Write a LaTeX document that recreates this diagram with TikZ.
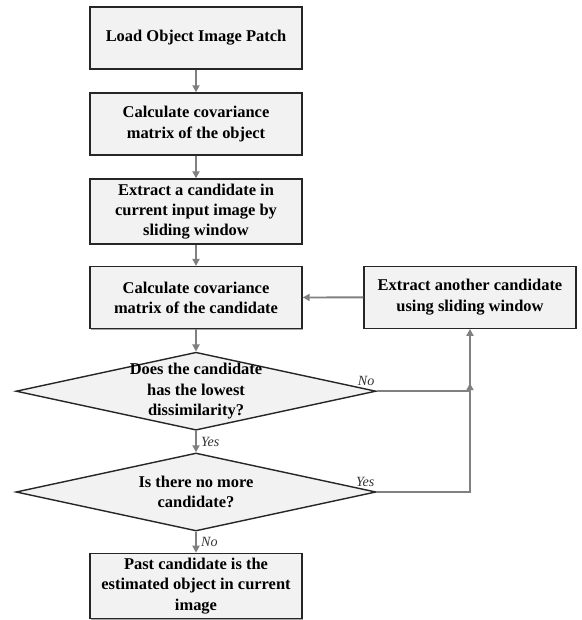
\documentclass[tikz,border=0pt]{standalone}
\usepackage{fontspec}
\setmainfont{Liberation Serif}
\usetikzlibrary{shapes.geometric,arrows.meta,shadows}

\begin{document}
\begin{tikzpicture}[
	stepbox/.style={draw=black!85, line width=1pt, fill=black!5,
		minimum width=5.3cm, minimum height=1.55cm, align=center,
		font=\bfseries\fontsize{11.7}{14.5}\selectfont,
		drop shadow={shadow xshift=0.8pt, shadow yshift=-0.8pt, opacity=0.7}},
	decision/.style={diamond, draw=black!85, line width=1pt, fill=black!5,
		minimum width=9cm, minimum height=1.95cm, inner sep=0pt},
	dtext/.style={align=center, font=\bfseries\fontsize{11.7}{14.5}\selectfont},
	arr/.style={draw=black!50, line width=1.3pt, -{Triangle[length=5pt,width=5pt]}},
	lbl/.style={font=\itshape\fontsize{10}{11}\selectfont, text=black!80, inner sep=1pt}
	]

	\useasboundingbox (0,0) rectangle (14.55,-15.5);

	\node[stepbox] (load) at (4.9,-0.95) {Load Object Image Patch};
	\node[stepbox] (covobj) at (4.9,-3.1) {Calculate covariance\\matrix of the object};
	\node[stepbox] (extract) at (4.9,-5.29) {Extract a candidate in\\current input image by\\sliding window};
	\node[stepbox] (covcand) at (4.9,-7.44) {Calculate covariance\\matrix of the candidate};
	\node[stepbox] (another) at (11.75,-7.43) {Extract another candidate\\using sliding window};

	\node[decision] (lowest) at (4.9,-9.78) {};
	\node[dtext] (lowesttext) at (lowest) {Does the candidate\\has the lowest\\dissimilarity?};
	\node[decision] (nomore) at (4.9,-12.3) {};
	\node[dtext] (nomoretext) at (nomore) {Is there no more\\candidate?};

	\node[stepbox] (past) at (4.9,-14.65) {Past candidate is the\\estimated object in current\\image};

	\coordinate (join) at (lowest.east -| another.south);

	\draw[arr] (load) -- (covobj);
	\draw[arr] (covobj) -- (extract);
	\draw[arr] (extract) -- (covcand);
	\draw[arr] (covcand) -- (lowest);
	\draw[arr] (lowest) -- node[lbl, right=2pt] {Yes} (nomore);
	\draw[arr] (nomore) -- node[lbl, right=2pt] {No} (past);
	\draw[arr] (another) -- (covcand);
	\draw[arr] (lowest.east) node[lbl, anchor=south east, yshift=2pt] {No} -- (join) -- ++(0,0.2);
	\draw[arr] (nomore.east) node[lbl, anchor=south east, yshift=2pt] {Yes} -| (another.south);

\end{tikzpicture}
\end{document}
